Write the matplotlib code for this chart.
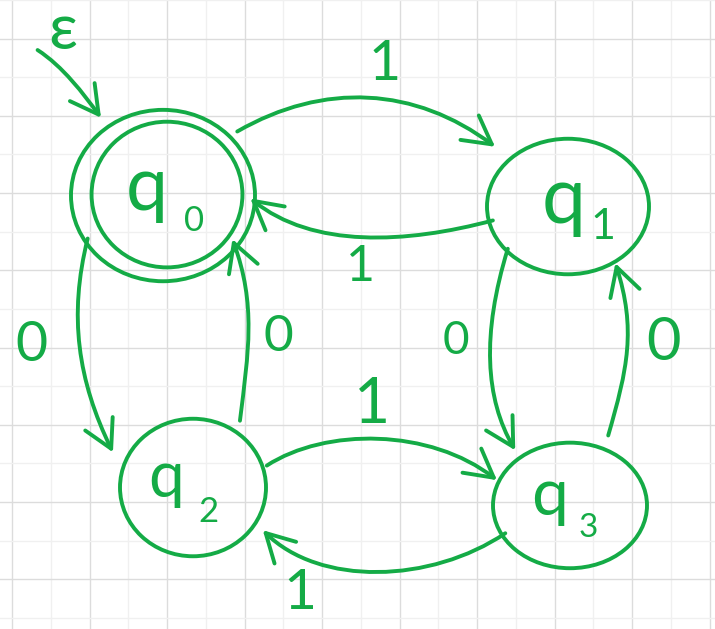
import numpy as np
import matplotlib.pyplot as plt
from matplotlib.patches import Ellipse, FancyArrowPatch
from matplotlib.path import Path

GREEN = "#14ab46"
FONT = ["Lato", "DejaVu Sans"]

# automaton: states and transitions
states = ["q0", "q1", "q2", "q3"]
state_sub = ["0", "1", "2", "3"]
accepting = ["q0"]
start_state = "q0"
start_label = "ε"

edge_src = ["q0", "q1", "q0", "q2", "q1", "q3", "q2", "q3"]
edge_dst = ["q1", "q0", "q2", "q0", "q3", "q1", "q3", "q2"]
edge_sym = ["1", "1", "0", "0", "0", "0", "1", "1"]

# layout in pixels (y down)
node_xy = {"q0": (163, 194), "q1": (568, 205), "q2": (193, 487), "q3": (570, 505)}
node_r = {"q0": (92, 86), "q1": (81, 68), "q2": (73, 69), "q3": (77, 63)}
# q glyph: centre x, baseline, x-height ; subscript: centre x, baseline, height
q_pos = {"q0": (147, 208, 40), "q1": (564, 222, 42), "q2": (166, 497, 34), "q3": (550, 515, 35)}
sub_pos = {"q0": (194, 230, 25), "q1": (603, 238, 31), "q2": (208, 522, 25), "q3": (588, 537, 24)}

# per edge: angle/radius on source, start heading, handle, angle/radius on target, end heading, handle
edge_geo = [
    (42.8, 1.10, 30, 100, 135.6, 1.26, -37, 100),
    (192.5, 0.95, 195, 90, -2, 0.95, 141, 80),
    (211.5, 0.96, 256, 80, 155, 1.21, -64, 80),
    (56.5, 1.165, 83, 70, -34, 0.91, 110, 70),
    (220, 0.97, 253, 90, 129, 1.13, -60, 60),
    (66, 1.22, 74, 70, -55, 1.02, 107.5, 70),
    (17.5, 1.06, 33, 70, 157, 1.03, -38, 85),
    (207.8, 0.95, 214, 90, -33, 1.14, 135, 80),
]
label_xy = [(385, 58, 40), (360, 262, 36), (31, 340, 40), (278, 332, 37),
            (456, 337, 33), (663, 338, 43), (372, 400, 45), (300, 588, 41)]


def on_node(name, ang, r):
    cx, cy = node_xy[name]
    rx, ry = node_r[name]
    a = np.radians(ang)
    return np.array([cx + r * rx * np.cos(a), cy - r * ry * np.sin(a)])


def heading(ang):
    a = np.radians(ang)
    return np.array([np.cos(a), -np.sin(a)])


def arrow(p0, d0, l0, p3, d3, l3):
    p1 = p0 + l0 * heading(d0)
    p2 = p3 - l3 * heading(d3)
    path = Path([p0, p1, p2, p3], [Path.MOVETO, Path.CURVE4, Path.CURVE4, Path.CURVE4])
    return FancyArrowPatch(path=path, arrowstyle="->,head_length=20,head_width=11",
                           mutation_scale=1, color=GREEN, lw=2.8,
                           capstyle="round", joinstyle="round")


fig = plt.figure(figsize=(7.15, 6.29), dpi=100)
ax = fig.add_axes([0, 0, 1, 1])
ax.set_xlim(0, 715)
ax.set_ylim(629, 0)

# squared paper
ax.set_xticks(np.arange(12, 716, 77.5))
ax.set_xticks(np.arange(50.75, 716, 77.5), minor=True)
ax.set_yticks(np.arange(36.5, 630, 77.5))
ax.set_yticks(np.arange(-2.25, 630, 77.5), minor=True)
ax.grid(which="major", color="#dcdcdc", lw=1.0)
ax.grid(which="minor", color="#f0f0f0", lw=1.0)
ax.tick_params(which="both", length=0, labelbottom=False, labelleft=False)
for s in ax.spines.values():
    s.set_visible(False)
ax.set_axisbelow(True)

for name, sub in zip(states, state_sub):
    (cx, cy), (rx, ry) = node_xy[name], node_r[name]
    ax.add_patch(Ellipse((cx, cy), 2 * rx, 2 * ry, fill=False, ec=GREEN, lw=2.8))
    if name in accepting:
        ax.add_patch(Ellipse((cx + 4, cy - 1), 2 * rx * 0.82, 2 * ry * 0.85,
                             fill=False, ec=GREEN, lw=2.8))
    qx, qy, xh = q_pos[name]
    ax.text(qx, qy, "q", color=GREEN, fontsize=xh * 1.35, family=FONT,
            ha="center", va="baseline")
    sx, sy, sh = sub_pos[name]
    ax.text(sx, sy, sub, color=GREEN, fontsize=sh, family=FONT,
            ha="center", va="baseline")

for src, dst, sym, geo, (lx, ly, lh) in zip(edge_src, edge_dst, edge_sym, edge_geo, label_xy):
    a0, r0, d0, l0, a3, r3, d3, l3 = geo
    ax.add_patch(arrow(on_node(src, a0, r0), d0, l0, on_node(dst, a3, r3), d3, l3))
    ax.text(lx, ly + lh / 2, sym, color=GREEN, fontsize=lh, family=FONT,
            ha="center", va="baseline")

# start arrow
tip = on_node(start_state, 126.6, 1.13)
tail = tip + 93 * heading(133)
ax.add_patch(arrow(tail, -33, 30, tip, -54, 30))
ax.text(63, 47, start_label, color=GREEN, fontsize=46, family=FONT,
        ha="center", va="baseline")

fig.savefig("out.png", dpi=100)
